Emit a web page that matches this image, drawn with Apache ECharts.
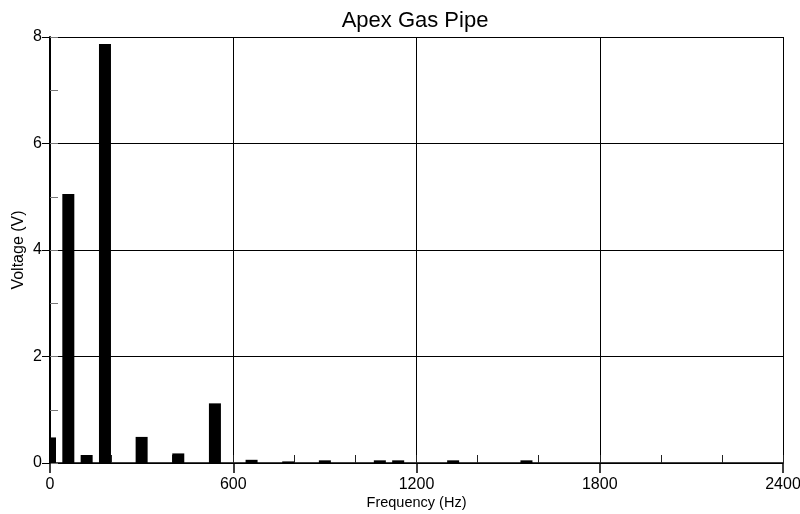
<!DOCTYPE html>
<html>
<head>
<meta charset="utf-8">
<script src="https://cdn.jsdelivr.net/npm/echarts@6/dist/echarts.min.js"></script>
<style>
  html, body { margin: 0; padding: 0; background: #fff; }
  #chart { width: 800px; height: 514px; }
</style>
</head>
<body>
<div id="chart"></div>
<script>
// Spectrum of the gas pipe signal: frequency bins (Hz) and amplitudes (V)
var frequencies = [0, 60, 120, 180, 300, 420, 540, 660, 780, 900, 1080, 1140, 1320, 1560];
var voltages    = [0.48, 5.05, 0.15, 7.87, 0.49, 0.18, 1.12, 0.06, 0.03, 0.05, 0.05, 0.05, 0.05, 0.05];

var xMajorLabels = [0, 600, 1200, 1800, 2400];
var yMajorLabels = [0, 2, 4, 6, 8];

var font = '"Liberation Sans", Arial, sans-serif';
var BAR_WIDTH = 12;

var chart = echarts.init(document.getElementById('chart'), null, { renderer: 'canvas' });

var points = frequencies.map(function (f, i) { return [f, voltages[i]]; });

// Bars drawn through the axes' scales and clipped to the plotting area
function renderBar(params, api) {
  var f = api.value(0);
  var v = api.value(1);
  var base = api.coord([f, 0]);
  var top = api.coord([f, v]);
  var cs = params.coordSys;
  var shape = echarts.graphic.clipRectByRect(
    { x: base[0] - BAR_WIDTH / 2, y: top[1], width: BAR_WIDTH, height: base[1] - top[1] },
    { x: cs.x, y: cs.y, width: cs.width, height: cs.height }
  );
  return shape && { type: 'rect', shape: shape, style: { fill: '#000' } };
}

chart.setOption({
  animation: false,
  backgroundColor: '#ffffff',
  title: {
    text: 'Apex Gas Pipe',
    left: 410,
    top: 5,
    textAlign: 'center',
    textStyle: { fontFamily: font, fontSize: 22, fontWeight: 'normal', color: '#000' }
  },
  grid: { left: 50, right: 17, top: 37, bottom: 51, containLabel: false, outerBoundsMode: 'none' },
  xAxis: [
    {
      type: 'value',
      position: 'bottom',
      min: 0, max: 2400, interval: 600,
      name: 'Frequency (Hz)',
      nameLocation: 'middle',
      nameGap: 32,
      nameMoveOverlap: false,
      nameTextStyle: { fontFamily: font, fontSize: 14.5, color: '#000' },
      axisLine: { show: true, onZero: false, lineStyle: { color: '#000', width: 1.5 } },
      axisTick: { show: true, inside: false, length: 10, lineStyle: { color: '#000', width: 1.5 } },
      axisLabel: {
        margin: 14, fontFamily: font, fontSize: 16, color: '#000',
        formatter: function (v) { return xMajorLabels.indexOf(v) >= 0 ? String(v) : ''; }
      },
      splitLine: { show: true, lineStyle: { color: '#000', width: 1 } }
    },
    {
      // inward minor ticks every 200 Hz
      type: 'value',
      position: 'bottom',
      min: 0, max: 2400, interval: 200,
      axisLine: { show: false, onZero: false },
      axisTick: { show: true, inside: true, length: 8, lineStyle: { color: '#222', width: 1 } },
      axisLabel: { show: false },
      splitLine: { show: false }
    }
  ],
  yAxis: [
    {
      type: 'value',
      position: 'left',
      min: 0, max: 8, interval: 2,
      name: 'Voltage (V)',
      nameLocation: 'middle',
      nameGap: 23,
      nameMoveOverlap: false,
      nameTextStyle: { fontFamily: font, fontSize: 16, color: '#000' },
      axisLine: { show: true, onZero: false, lineStyle: { color: '#000', width: 2 } },
      axisTick: { show: true, inside: false, length: 8, lineStyle: { color: '#000', width: 1 } },
      axisLabel: {
        margin: 8, fontFamily: font, fontSize: 16, color: '#000',
        formatter: function (v) { return yMajorLabels.indexOf(v) >= 0 ? String(v) : ''; }
      },
      splitLine: { show: true, lineStyle: { color: '#000', width: 1 } }
    },
    {
      // inward minor ticks every 1 V
      type: 'value',
      position: 'left',
      min: 0, max: 8, interval: 1,
      axisLine: { show: false, onZero: false },
      axisTick: { show: true, inside: true, length: 8, lineStyle: { color: '#777', width: 1 } },
      axisLabel: { show: false },
      splitLine: { show: false }
    }
  ],
  series: [
    {
      type: 'custom',
      xAxisIndex: 0,
      yAxisIndex: 0,
      renderItem: renderBar,
      encode: { x: 0, y: 1 },
      data: points
    }
  ]
});
</script>
</body>
</html>
